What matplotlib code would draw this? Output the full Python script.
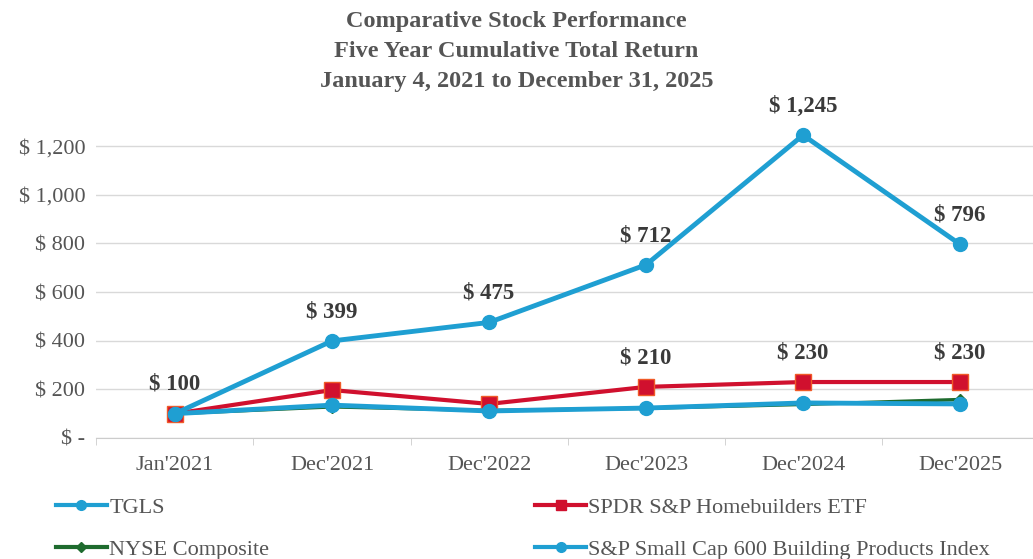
import numpy as np
import matplotlib.pyplot as plt
from matplotlib.lines import Line2D

# data
periods = ["Jan'2021", "Dec'2021", "Dec'2022", "Dec'2023", "Dec'2024", "Dec'2025"]
tgls = [100, 399, 475, 712, 1245, 796]
spdr = [100, 197, 140, 210, 230, 230]
nyse = [100, 128, 113, 122, 138, 158]
sp600 = [100, 135, 111, 123, 144, 140]

tgls_labels = [(0, 100), (1, 399), (2, 475), (3, 712), (4, 1245), (5, 796)]
spdr_labels = [(3, 210), (4, 230), (5, 230)]

plt.rcParams['font.family'] = ['Liberation Serif', 'DejaVu Serif']
grey = '#555555'

fig = plt.figure(figsize=(10.33, 5.59), dpi=100)
ax = fig.add_axes([0.0934, 0.2165, 0.912, 0.5657])

x = np.arange(len(periods))
ax.plot(x, nyse, color='#1e6b2e', lw=2.5, marker='D', ms=6, zorder=3)
ax.plot(x, spdr, color='#d0102e', lw=3, marker='s', ms=11,
        markeredgecolor='#f05a28', markeredgewidth=1, zorder=4)
ax.plot(x, sp600, color='#1f9fd2', lw=3.5, marker='o', ms=10, zorder=5)
ax.plot(x, tgls, color='#1f9fd2', lw=3.5, marker='o', ms=10, zorder=6)

for i, v in tgls_labels + spdr_labels:
    ax.annotate(f"$ {v:,}", (x[i], v), xytext=(0, 21), textcoords='offset points',
                ha='center', va='center', fontsize=16.5, fontweight='bold', color='#3a3a3a')

ax.set_xlim(-0.5, 5.5)
ax.set_ylim(0, 1300)
yt = np.arange(0, 1201, 200)
ax.set_yticks(yt)
ax.set_yticklabels(['$ -'] + [f"$ {v:,}" for v in yt[1:]], fontsize=16, color=grey)
ax.set_xticks(x)
ax.set_xticklabels(periods, fontsize=16, color=grey)
ax.set_xticks(np.arange(-0.5, 5.6, 1), minor=True)
ax.tick_params(axis='x', which='major', length=0, pad=13)
ax.tick_params(axis='x', which='minor', length=5, color='#cccccc')
ax.tick_params(axis='y', length=0, pad=8)
ax.grid(axis='y', color='#d9d9d9', lw=1)
ax.set_axisbelow(True)
for s in ['top', 'right', 'left']:
    ax.spines[s].set_visible(False)
ax.spines['bottom'].set_color('#cccccc')

fig.text(0.5, 0.98, "Comparative Stock Performance\nFive Year Cumulative Total Return\nJanuary 4, 2021 to December 31, 2025",
         ha='center', va='top', fontsize=17.5, fontweight='bold', color=grey, linespacing=1.55)

handles = [
    Line2D([], [], color='#1f9fd2', lw=3, marker='o', ms=7),
    Line2D([], [], color='#d0102e', lw=3, marker='s', ms=7),
    Line2D([], [], color='#1e6b2e', lw=3, marker='D', ms=5),
    Line2D([], [], color='#1f9fd2', lw=3, marker='o', ms=7),
]
names = ['TGLS', 'SPDR S&P Homebuilders ETF', 'NYSE Composite',
         'S&P Small Cap 600 Building Products Index']
fig.legend(handles[:1] + handles[2:3], names[:1] + names[2:3], loc='upper left',
           bbox_to_anchor=(0.054, 0.11), frameon=False, fontsize=16,
           handlelength=2.3, handletextpad=0.1, labelspacing=0.95, labelcolor=grey,
           borderpad=0, borderaxespad=0)
fig.legend(handles[1:2] + handles[3:], names[1:2] + names[3:], loc='upper left',
           bbox_to_anchor=(0.518, 0.11), frameon=False, fontsize=16,
           handlelength=2.3, handletextpad=0.1, labelspacing=0.95, labelcolor=grey,
           borderpad=0, borderaxespad=0)

fig.savefig('out.png', dpi=100)
